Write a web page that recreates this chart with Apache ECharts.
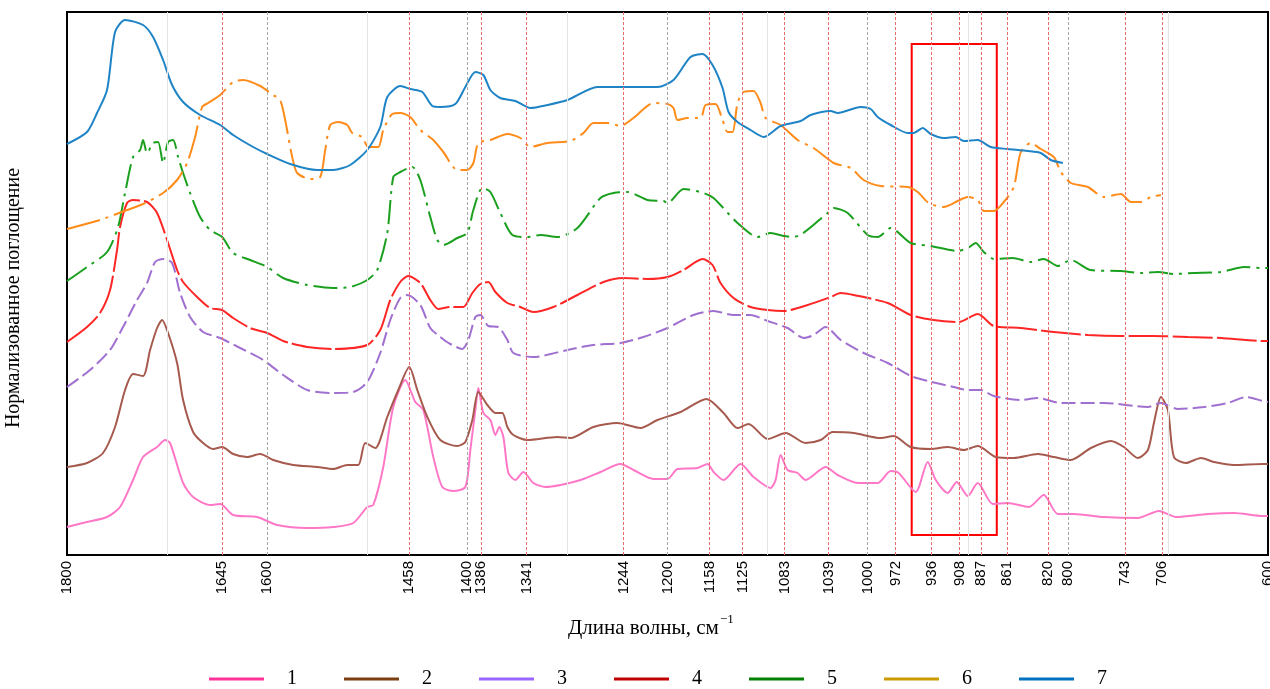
<!DOCTYPE html>
<html>
<head>
<meta charset="utf-8">
<script src="https://cdn.jsdelivr.net/npm/echarts@6/dist/echarts.min.js"></script>
<style>
  html, body { margin: 0; padding: 0; background: #fff; }
  #chart { width: 1270px; height: 689px; }
</style>
</head>
<body>
<div id="chart"></div>
<script>
// [wavenumber, normalized absorbance (arbitrary units, spectra stacked)]
const curve1 = [[1800,28],[1780,33],[1760,38],[1747,48],[1734,75],[1724,98],[1710,108],[1702,115],[1697,112],[1684,72],[1674,58],[1657,50],[1647,51],[1634,40],[1610,38],[1590,30],[1560,27],[1534,28],[1514,32],[1500,48],[1494,50],[1484,88],[1474,148],[1462,175],[1452,153],[1444,145],[1434,98],[1425,68],[1414,64],[1402,68],[1397,105],[1392,145],[1389,167],[1384,142],[1377,135],[1372,120],[1368,128],[1364,118],[1359,82],[1352,75],[1344,83],[1334,72],[1322,68],[1307,70],[1287,75],[1267,83],[1247,91],[1234,85],[1214,76],[1200,76],[1190,86],[1170,87],[1160,91],[1154,83],[1144,75],[1127,91],[1114,78],[1097,67],[1092,75],[1087,100],[1080,85],[1070,82],[1062,75],[1042,88],[1030,80],[1010,72],[990,72],[977,84],[969,82],[952,63],[940,93],[932,75],[920,62],[911,73],[900,59],[890,72],[875,51],[860,52],[839,48],[824,60],[810,41],[794,41],[764,38],[730,37],[709,44],[692,38],[660,41],[634,42],[605,39],[600,39]];
const curve2 = [[1800,88],[1780,92],[1764,102],[1752,128],[1742,165],[1734,181],[1724,179],[1717,205],[1710,227],[1705,235],[1699,222],[1690,192],[1684,155],[1674,123],[1664,112],[1654,106],[1645,108],[1634,101],[1620,98],[1607,101],[1594,95],[1574,90],[1550,88],[1534,86],[1520,90],[1509,90],[1502,112],[1492,107],[1480,138],[1469,165],[1458,188],[1450,165],[1440,138],[1427,115],[1410,109],[1402,113],[1395,135],[1389,163],[1380,150],[1372,142],[1365,142],[1360,128],[1354,120],[1340,115],[1310,118],[1297,117],[1274,128],[1250,132],[1227,127],[1210,135],[1187,143],[1161,156],[1144,142],[1130,127],[1119,131],[1100,116],[1082,122],[1062,112],[1047,115],[1035,123],[1014,122],[987,117],[974,119],[957,108],[937,106],[920,108],[904,105],[890,109],[872,98],[854,97],[830,101],[814,98],[797,95],[777,107],[757,114],[744,108],[730,97],[720,105],[714,132],[707,158],[700,145],[694,98],[682,92],[667,97],[654,93],[634,90],[605,91],[600,91]];
const curve3 = [[1800,168],[1777,185],[1757,205],[1744,228],[1730,255],[1720,272],[1712,293],[1704,296],[1695,292],[1687,262],[1677,238],[1664,223],[1647,217],[1627,207],[1604,195],[1584,180],[1560,165],[1534,162],[1514,163],[1500,173],[1487,202],[1477,235],[1467,257],[1460,260],[1447,250],[1437,227],[1427,218],[1417,211],[1405,206],[1399,215],[1392,238],[1387,240],[1379,229],[1369,228],[1360,215],[1354,202],[1334,198],[1300,205],[1274,210],[1247,212],[1224,218],[1200,227],[1174,240],[1154,244],[1134,240],[1117,240],[1100,234],[1080,227],[1064,217],[1054,220],[1042,228],[1027,215],[1004,202],[980,192],[957,179],[940,174],[914,168],[900,165],[887,165],[874,159],[847,155],[830,157],[807,152],[764,152],[720,148],[707,152],[690,146],[664,148],[640,152],[622,158],[605,154],[600,153]];
const curve4 = [[1800,213],[1780,228],[1767,242],[1757,265],[1750,305],[1747,328],[1740,352],[1734,355],[1720,353],[1710,342],[1700,315],[1690,285],[1684,273],[1670,258],[1657,247],[1645,245],[1634,237],[1617,227],[1600,222],[1584,214],[1560,208],[1534,206],[1500,210],[1487,225],[1477,255],[1467,273],[1459,279],[1447,272],[1437,255],[1429,246],[1417,248],[1404,248],[1395,262],[1387,271],[1379,273],[1372,263],[1360,252],[1347,248],[1334,243],[1314,248],[1290,260],[1264,273],[1244,277],[1220,276],[1200,278],[1184,285],[1165,296],[1155,290],[1147,272],[1134,257],[1117,248],[1100,245],[1084,244],[1060,250],[1037,258],[1027,262],[1014,260],[980,252],[957,240],[934,235],[909,233],[890,241],[874,229],[847,227],[814,223],[780,220],[747,219],[714,219],[680,218],[647,217],[605,214],[600,214]];
const curve5 = [[1800,274],[1780,288],[1760,303],[1749,328],[1742,362],[1734,398],[1727,405],[1724,415],[1720,402],[1714,412],[1709,413],[1704,392],[1699,413],[1694,415],[1689,398],[1685,385],[1677,362],[1667,338],[1657,325],[1645,318],[1634,302],[1617,295],[1600,288],[1584,277],[1560,270],[1534,267],[1517,268],[1500,275],[1490,285],[1480,322],[1474,378],[1467,383],[1455,388],[1447,375],[1437,338],[1430,315],[1424,310],[1410,317],[1400,322],[1394,345],[1385,367],[1377,363],[1367,342],[1355,320],[1340,318],[1327,320],[1310,318],[1290,327],[1267,357],[1254,362],[1240,363],[1220,355],[1204,354],[1200,352],[1184,366],[1164,362],[1154,357],[1130,332],[1110,318],[1097,322],[1084,319],[1074,318],[1040,342],[1034,347],[1020,342],[1000,320],[990,318],[977,327],[957,312],[937,309],[910,304],[900,307],[892,312],[884,303],[874,296],[855,297],[837,293],[824,296],[810,289],[797,295],[777,285],[747,284],[727,282],[710,283],[694,281],[674,282],[647,283],[624,288],[605,287],[600,287]];
const curve6 = [[1800,326],[1767,335],[1740,345],[1724,351],[1704,362],[1690,375],[1680,392],[1672,418],[1665,448],[1659,452],[1647,460],[1634,473],[1624,475],[1607,469],[1594,460],[1587,455],[1582,435],[1575,398],[1570,382],[1557,376],[1547,378],[1542,405],[1537,430],[1529,433],[1520,430],[1515,422],[1505,418],[1499,408],[1489,408],[1484,425],[1475,441],[1467,442],[1457,438],[1447,425],[1434,415],[1424,403],[1410,385],[1400,385],[1394,392],[1389,412],[1377,415],[1360,421],[1347,417],[1337,408],[1320,412],[1297,414],[1284,422],[1274,432],[1260,432],[1247,429],[1234,437],[1214,452],[1200,451],[1194,447],[1190,435],[1180,437],[1167,437],[1162,450],[1152,451],[1145,435],[1140,423],[1135,423],[1130,452],[1124,463],[1114,464],[1107,452],[1102,437],[1087,430],[1070,415],[1054,407],[1034,392],[1017,387],[1004,375],[987,369],[960,368],[950,363],[939,352],[924,348],[910,354],[900,358],[890,355],[884,344],[874,344],[864,353],[854,368],[847,403],[837,412],[827,406],[814,398],[807,383],[797,372],[780,368],[764,358],[747,361],[737,353],[727,353],[717,358],[707,360]];
const curve7 = [[1800,411],[1780,423],[1770,442],[1760,465],[1752,523],[1742,535],[1724,530],[1714,518],[1704,495],[1695,470],[1684,453],[1667,440],[1647,430],[1634,420],[1614,408],[1600,401],[1577,391],[1550,385],[1534,385],[1517,390],[1500,405],[1487,428],[1480,458],[1467,469],[1457,466],[1445,463],[1435,449],[1427,448],[1412,451],[1402,468],[1392,483],[1384,480],[1377,465],[1367,457],[1352,454],[1337,447],[1320,450],[1300,455],[1270,468],[1247,468],[1210,468],[1194,475],[1177,498],[1165,501],[1155,490],[1145,467],[1139,443],[1130,433],[1117,425],[1104,418],[1087,429],[1067,434],[1057,440],[1037,444],[1030,442],[1007,448],[997,446],[990,438],[977,430],[960,422],[954,422],[945,427],[937,421],[924,417],[912,418],[904,414],[890,415],[877,408],[860,406],[840,404],[827,402],[817,395],[805,392]];

const tickWaves = [1800,1645,1600,1458,1400,1386,1341,1244,1200,1158,1125,1083,1039,1000,972,936,908,887,861,820,800,743,706,600];
const peakLines = [1645,1458,1386,1341,1244,1158,1125,1083,1039,972,936,908,887,861,820,743,706];
const majorLines = [1600,1400,1200,1000,800];
const minorLines = [1700,1500,1300,1100,900,700];
const zoneBox = [956, 871]; // highlighted region, cm-1

const names = ['1','2','3','4','5','6','7'];
const curves = [curve1, curve2, curve3, curve4, curve5, curve6, curve7];
const lineColors = ['#ff78c8','#a65a4e','#a070d0','#ff2626','#1aa01e','#ff8c1a','#1f84c6'];
const legendColors = ['#ff3399','#7b3f12','#9966ff','#c00000','#008000','#cc9900','#0070c0'];
const dashes = ['solid','solid',[14,5],[40,4],[24,6,3,6],[34,6,3,6],'solid'];

const serif = '"Liberation Serif", "Times New Roman", serif';

function vLines(vals, style) {
    return {
        type: 'line', data: [], silent: true, z: 1,
        markLine: { symbol: ['none','none'], silent: true, label: { show: false },
            lineStyle: style, data: vals.map(v => ({ xAxis: v })) }
    };
}

const series = [
    vLines(minorLines, { color: '#e4e4e4', width: 1, type: 'solid' }),
    vLines(majorLines, { color: '#a8a8a8', width: 1, type: [3,2] }),
    vLines(peakLines, { color: '#e86a6a', width: 1, type: [3,2] })
];
curves.forEach((c, i) => series.push({
    name: names[i], type: 'line', data: c, smooth: 0.25, showSymbol: false, z: 3,
    lineStyle: { color: lineColors[i], width: 2, type: dashes[i] },
    itemStyle: { color: lineColors[i] }
}));
series.push({
    type: 'line', data: [], silent: true, z: 5,
    markArea: { silent: true, itemStyle: { color: 'rgba(0,0,0,0)', borderColor: '#ff0000', borderWidth: 2 },
        data: [[{ coord: [zoneBox[0], 511] }, { coord: [zoneBox[1], 20] }]] }
});

const chart = echarts.init(document.getElementById('chart'));
chart.setOption({
    animation: false,
    grid: { left: 67, right: 2, top: 12, bottom: 134, outerBoundsMode: 'none', containLabel: false,
        show: true, borderColor: '#000', borderWidth: 2 },
    xAxis: {
        type: 'value', inverse: true, min: 600, max: 1800,
        axisLine: { show: true, lineStyle: { color: '#000', width: 2 } },
        axisTick: { show: false },
        splitLine: { show: false },
        axisLabel: { customValues: tickWaves, rotate: 90, margin: 6, color: '#000',
            formatter: v => String(v),
            fontFamily: '"Liberation Sans", Arial, sans-serif', fontSize: 15 }
    },
    yAxis: {
        type: 'value', min: 0, max: 543,
        axisLine: { show: false }, axisTick: { show: false },
        axisLabel: { show: false }, splitLine: { show: false }
    },
    legend: {
        left: 204, top: 664, itemWidth: 55, itemHeight: 3, itemGap: 47, icon: 'rect',
        textStyle: { fontFamily: serif, fontSize: 20, color: '#000', padding: [0,0,0,18] },
        data: names.map((n, i) => ({ name: n, itemStyle: { color: legendColors[i] } }))
    },
    graphic: [
        { type: 'text', x: 14, y: 298, rotation: Math.PI / 2,
          style: { text: 'Нормализованное поглощение', font: '20px ' + serif, fill: '#000',
                   textAlign: 'center', textVerticalAlign: 'middle' } },
        { type: 'text', x: 568, y: 628,
          style: { text: 'Длина волны, см', font: '21px ' + serif, fill: '#000',
                   textAlign: 'left', textVerticalAlign: 'middle' } },
        { type: 'text', x: 720, y: 620,
          style: { text: '−1', font: '13px ' + serif, fill: '#000',
                   textAlign: 'left', textVerticalAlign: 'middle' } }
    ],
    series: series
});
</script>
</body>
</html>
